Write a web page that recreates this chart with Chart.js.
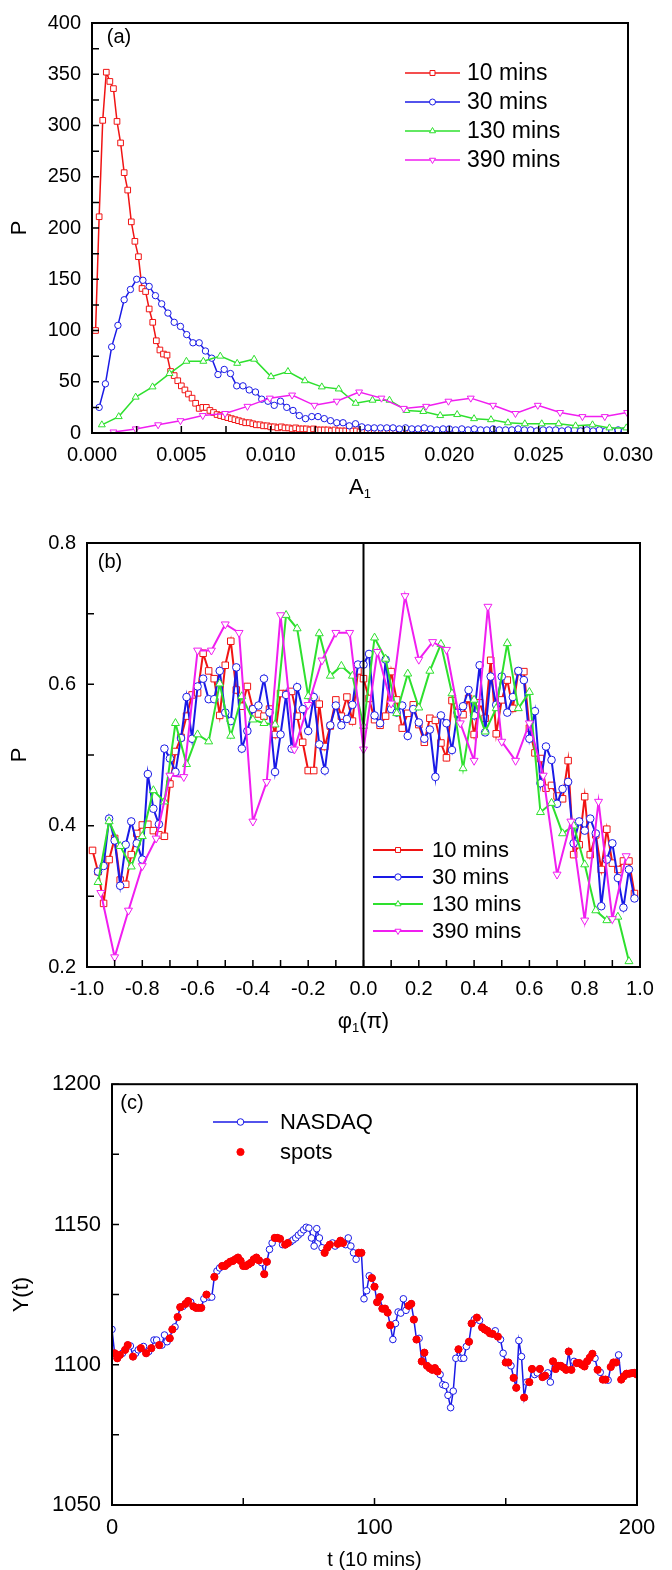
<!DOCTYPE html>
<html lang="en">
<head>
<meta charset="UTF-8">
<title>Amplitude / phase distributions and NASDAQ spots</title>
<script src="https://cdn.jsdelivr.net/npm/chart.js"></script>
<style>
  body { margin: 0; background: #fff; }
  canvas { position: absolute; left: 0; }
</style>
</head>
<body>
<canvas id="chartA" width="672" height="520" style="top:0"></canvas>
<canvas id="chartB" width="672" height="540" style="top:520px"></canvas>
<canvas id="chartC" width="672" height="510" style="top:1060px"></canvas>
<script>
// ---------- panel (a): P vs A1 ----------
// sampling grids (start, step) read off the marker spacing
const a10Grid = [0.0002, 0.0002];
const a30Grid = [0.0004, 0.00035];
const a130Grid = [0.00055, 0.000947];
const a390Grid = [0.0012, 0.00125];

const a10 = [100,211,305,352,343,336,304,283,254,237,
  206,187,172,141,138,121,108,90,81,77,
  76,60,56,51,46,42,38,34,29,24,
  25,25,22,20,18,17,16,15,14,13,
  12,11,10,10,9,8,8,7,7,6,
  6,5,6,5,5,4,5,4,4,4,
  3,4,3,3,3,3,2,3,2,2,
  2,2,2,2,1,2,1,1,1,1,
  1,1,1,1,1,1,1,1,1,1,
  1,1,1,1,1,1,1,1,1,1];
const a30 = [25,48,84,105,130,140,150,149,143,134,
  126,117,108,104,96,88,88,80,73,57,
  62,58,46,46,42,40,33,31,27,31,
  25,22,17,14,16,16,14,12,10,10,
  7,9,6,5,5,5,5,5,4,5,
  4,4,5,4,3,4,4,3,4,3,
  4,3,3,4,3,3,3,4,3,3,
  2,3,3,3,2,3,3,2,3,2,
  3,2,2,3,2];
const a130 = [8,16,35,45,58,70,70,75,68,72,55,60,51,45,43,29,32,32,22,21,17,18,14,13,10,9,9,9,7,8,5,5];
const a390 = [1,4,8,12,17,19,26,34,37,27,31,40,34,24,26,31,34,27,19,27,20,16,16,20];

const aXTicks = [0,0.0025,0.005,0.0075,0.01,0.0125,0.015,0.0175,0.02,0.0225,0.025,0.0275,0.03];
const aYTicks = [0,25,50,75,100,125,150,175,200,225,250,275,300,325,350,375,400];

// ---------- panel (b): P vs phi1 ----------
const b10Grid = [-0.98, 0.02];
const b30Grid = [-0.96, 0.02];
const b130Grid = [-0.96, 0.04];
const b390Grid = [-0.95, 0.05];

const b10 = [0.365,0.335,0.290,0.352,0.382,0.323,0.317,0.359,0.389,0.401,
  0.402,0.393,0.387,0.385,0.459,0.505,0.525,0.555,0.585,0.588,
  0.644,0.619,0.608,0.556,0.627,0.661,0.592,0.569,0.597,0.565,
  0.558,0.555,0.565,0.529,0.587,0.587,0.590,0.555,0.518,0.478,
  0.478,0.572,0.512,0.541,0.578,0.555,0.582,0.548,0.619,0.608,
  0.580,0.550,0.542,0.555,0.618,0.578,0.538,0.559,0.571,0.543,
  0.518,0.552,0.549,0.517,0.496,0.577,0.558,0.557,0.580,0.529,
  0.574,0.552,0.634,0.530,0.578,0.606,0.566,0.618,0.618,0.538,
  0.503,0.495,0.453,0.457,0.442,0.438,0.492,0.359,0.373,0.441,
  0.359,0.387,0.338,0.395,0.347,0.338,0.350,0.350,0.304];
const b30 = [0.335,0.343,0.410,0.379,0.315,0.373,0.406,0.375,0.352,0.473,
  0.424,0.402,0.509,0.495,0.476,0.524,0.582,0.523,0.597,0.608,
  0.579,0.579,0.619,0.560,0.548,0.624,0.509,0.534,0.565,0.570,
  0.608,0.560,0.476,0.529,0.585,0.509,0.596,0.565,0.534,0.582,
  0.515,0.478,0.542,0.570,0.542,0.551,0.571,0.628,0.628,0.643,
  0.556,0.545,0.635,0.565,0.560,0.570,0.527,0.565,0.546,0.523,
  0.536,0.469,0.556,0.545,0.507,0.560,0.569,0.592,0.556,0.627,
  0.532,0.611,0.571,0.611,0.560,0.582,0.619,0.606,0.523,0.562,
  0.460,0.512,0.493,0.431,0.452,0.462,0.375,0.406,0.393,0.410,
  0.389,0.286,0.352,0.375,0.326,0.284,0.338,0.297];
const b130 = [0.320,0.406,0.371,0.342,0.385,0.450,0.434,0.545,0.487,0.529,
  0.519,0.601,0.527,0.583,0.550,0.545,0.543,0.698,0.679,0.583,
  0.672,0.612,0.626,0.612,0.541,0.666,0.636,0.559,0.615,0.567,
  0.619,0.657,0.587,0.481,0.578,0.533,0.566,0.658,0.566,0.589,
  0.419,0.432,0.389,0.400,0.345,0.280,0.266,0.271,0.208];
const b390 = [0.305,0.214,0.280,0.343,0.382,0.471,0.469,0.648,0.648,0.685,
  0.673,0.406,0.462,0.698,0.508,0.571,0.634,0.673,0.673,0.508,
  0.646,0.573,0.725,0.635,0.660,0.649,0.545,0.492,0.710,0.519,
  0.492,0.545,0.471,0.331,0.406,0.266,0.434,0.268,0.357];

const bXTicks = [-1,-0.9,-0.8,-0.7,-0.6,-0.5,-0.4,-0.3,-0.2,-0.1,0,0.1,0.2,0.3,0.4,0.5,0.6,0.7,0.8,0.9,1];
const bYTicks = [0.2,0.3,0.4,0.5,0.6,0.7,0.8];

// ---------- panel (c): Y(t), t = 0..200 ----------
const nasdaq = [1112.6,1104.1,1102.3,1103.5,1104.1,1105.3,1107.0,1106.7,1102.9,1104.1,
  1105.3,1105.9,1106.5,1104.1,1104.7,1105.9,1108.8,1108.8,1107.0,1107.0,
  1110.6,1108.2,1109.4,1112.6,1113.5,1117.0,1120.5,1120.8,1121.7,1122.7,
  1122.3,1120.8,1120.3,1120.3,1120.3,1123.5,1125.0,1124.1,1124.1,
  1131.3,1133.4,1134.5,1135.2,1135.2,1136.0,1136.7,1137.0,1137.6,1138.2,1137.0,
  1135.2,1135.2,1135.8,1136.4,1137.6,1138.2,1137.2,1136.4,1132.3,1136.7,
  1141.1,1143.4,1145.2,1145.2,1144.9,1142.8,1142.8,1143.4,1143.8,1144.5,
  1145.2,1146.2,1147.0,1148.1,1149.0,1148.7,1145.2,1142.3,1148.5,1145.2,
  1141.7,1139.9,1141.7,1142.8,1143.4,1142.3,1143.1,1144.2,1143.4,1142.8,
  1145.2,1142.3,1139.9,1137.6,1139.9,1139.9,
  1123.5,1126.4,1131.7,1130.9,1127.8,1122.3,
  1124.1,1120.0,1120.0,1118.6,1114.1,1109.0,1114.7,1118.8,1118.4,1123.5,
  1119.4,1121.0,1121.7,1116.1,1109.0,1109.4,1101.2,1104.3,1099.6,1098.8,
  1098.2,1098.8,1097.6,1096.5,1092.9,1092.6,1089.1,1084.7,1090.6,1102.3,
  1105.5,1102.3,1102.3,1106.5,1108.2,1114.7,1116.1,1116.8,1115.8,1113.3,
  1112.6,1112.1,1111.2,1111.0,1112.1,1110.0,1109.0,1104.1,1100.8,1100.8,
  1099.6,1095.3,1091.8,1108.6,1102.9,1088.3,1093.8,1093.8,1098.5,1096.5,
  1097.1,1098.5,1095.6,1096.1,1097.1,1093.8,1101.2,1098.5,1099.6,1099.6,
  1099.0,1098.2,1104.7,1098.2,1101.2,1100.6,1100.6,1100.0,1099.4,1101.2,
  1102.5,1103.9,1102.3,1098.2,1097.3,1094.7,1094.7,1094.5,1099.2,1100.8,
  1100.8,1103.5,1094.7,1095.9,1096.8,1096.8,1097.0,1097.1,1096.5];
// time steps that carry a red spot
const spotT = [1,2,3,5,6,8,11,13,15,18,22,23,25,26,28,29,31,32,33,34,36,39,42,43,44,45,46,47,48,49,
  50,51,52,53,54,55,56,58,59,62,63,64,66,67,81,82,83,86,87,88,94,95,99,100,101,102,103,104,105,106,
  113,114,115,116,118,119,120,121,122,123,124,132,136,137,139,141,142,143,144,145,147,150,151,153,154,
  157,159,160,163,164,165,168,169,170,171,172,173,174,175,177,178,179,180,181,182,183,185,187,188,
  190,191,192,194,195,196,197,198,199,200];

const cXTicks = [0,50,100,150,200];
const cYTicks = [1050,1075,1100,1125,1150,1175,1200];

// ---------- helpers ----------
const FONT = '"Liberation Sans", Arial, Helvetica, sans-serif';
Chart.defaults.font.family = FONT;
Chart.defaults.color = '#000';

const RED = '#f01414', BLUE = '#1a1ae6', GREEN = '#2ee02e', MAGENTA = '#f01ef0';

function onGrid(grid, ys) {
  return ys.map((v, i) => ({ x: +(grid[0] + i * grid[1]).toFixed(6), y: v }));
}

function series(label, data, color, style, radius, lw, rot, order) {
  return {
    label, data, order, showLine: true, tension: 0,
    borderColor: color, borderWidth: lw,
    pointStyle: style, pointRotation: rot || 0, pointRadius: radius,
    pointBorderColor: color, pointBackgroundColor: '#fff', pointBorderWidth: 1
  };
}

function richText(ctx, parts, cx, cy) {
  let w = 0;
  parts.forEach(p => { ctx.font = p.size + 'px ' + FONT; w += ctx.measureText(p.t).width; });
  let x = cx - w / 2;
  ctx.textAlign = 'left';
  ctx.textBaseline = 'middle';
  parts.forEach(p => {
    ctx.font = p.size + 'px ' + FONT;
    ctx.fillText(p.t, x, cy + (p.dy || 0));
    x += ctx.measureText(p.t).width;
  });
}

const deco = {
  id: 'deco',
  afterDatasetsDraw(chart, args, o) {
    const { ctx, chartArea: ca } = chart;
    const x = chart.scales.x, y = chart.scales.y;
    ctx.save();
    ctx.strokeStyle = '#000';
    ctx.fillStyle = '#000';

    // zero line
    if (o.zeroLine) {
      const px = x.getPixelForValue(0);
      ctx.lineWidth = 2;
      ctx.beginPath(); ctx.moveTo(px, ca.top); ctx.lineTo(px, ca.bottom); ctx.stroke();
    }

    // inward tick marks on the bottom and left axes
    ctx.lineWidth = 1.5;
    ctx.beginPath();
    o.xTicks.forEach(v => { const p = x.getPixelForValue(v); ctx.moveTo(p, ca.bottom); ctx.lineTo(p, ca.bottom - 7); });
    o.yTicks.forEach(v => { const p = y.getPixelForValue(v); ctx.moveTo(ca.left, p); ctx.lineTo(ca.left + 7, p); });
    ctx.stroke();

    // frame
    ctx.lineWidth = 2;
    ctx.strokeRect(ca.left, ca.top, ca.right - ca.left, ca.bottom - ca.top);

    // panel tag
    ctx.font = '20px ' + FONT;
    ctx.textAlign = 'center';
    ctx.textBaseline = 'middle';
    ctx.fillText(o.tag.text, o.tag.x, o.tag.y);

    // axis titles
    richText(ctx, o.xTitle.parts, (ca.left + ca.right) / 2, o.xTitle.y);
    ctx.save();
    ctx.translate(o.yTitle.x, (ca.top + ca.bottom) / 2);
    ctx.rotate(-Math.PI / 2);
    richText(ctx, o.yTitle.parts, 0, 0);
    ctx.restore();

    // legend
    const L = o.legend;
    L.items.forEach((it, i) => {
      const ly = L.y + i * L.gap;
      const ds = chart.data.datasets[it.ds];
      if (it.line !== false) {
        ctx.strokeStyle = ds.borderColor;
        ctx.lineWidth = ds.borderWidth;
        ctx.beginPath(); ctx.moveTo(L.x0, ly); ctx.lineTo(L.x1, ly); ctx.stroke();
      }
      ctx.strokeStyle = ds.pointBorderColor;
      ctx.fillStyle = ds.pointBackgroundColor;
      ctx.lineWidth = ds.pointBorderWidth;
      Chart.helpers.drawPoint(ctx, {
        pointStyle: ds.pointStyle, rotation: ds.pointRotation || 0,
        radius: it.r || ds.pointRadius, borderWidth: ds.pointBorderWidth
      }, (L.x0 + L.x1) / 2, ly);
      ctx.fillStyle = '#000';
      ctx.font = L.size + 'px ' + FONT;
      ctx.textAlign = 'left';
      ctx.textBaseline = 'middle';
      ctx.fillText(ds.label, L.tx, ly + 1);
    });
    ctx.restore();
  }
};

function axes(c) {
  const tickFont = { size: c.font || 20 };
  return {
    x: {
      type: 'linear', min: c.xMin, max: c.xMax,
      afterFit: s => { s.height = c.xH; },
      grid: { display: false, drawTicks: false }, border: { display: false },
      ticks: { stepSize: c.xStep, callback: c.xFmt, padding: 10, maxRotation: 0, autoSkip: false, font: tickFont, color: '#000' }
    },
    y: {
      type: 'linear', min: c.yMin, max: c.yMax,
      afterFit: s => { s.width = c.yW; },
      grid: { display: false, drawTicks: false }, border: { display: false },
      ticks: { stepSize: c.yStep, callback: c.yFmt, padding: 11, autoSkip: false, font: tickFont, color: '#000' }
    }
  };
}

function baseOptions(c, decoOpts) {
  return {
    responsive: false, animation: false, devicePixelRatio: 1,
    layout: { padding: { top: c.top, right: c.right, left: 0, bottom: 0 } },
    plugins: { legend: { display: false }, tooltip: { enabled: false }, deco: decoOpts },
    scales: axes(c)
  };
}

// ---------- chart (a) ----------
new Chart(document.getElementById('chartA'), {
  type: 'scatter',
  data: {
    datasets: [
      series('10 mins', onGrid(a10Grid, a10), RED, 'rect', 4, 1.5, 0, 3),
      series('30 mins', onGrid(a30Grid, a30), BLUE, 'circle', 3.2, 1.5, 0, 2),
      series('130 mins', onGrid(a130Grid, a130), GREEN, 'triangle', 4, 1.5, 0, 1),
      series('390 mins', onGrid(a390Grid, a390), MAGENTA, 'triangle', 4, 1.5, 180, 0)
    ]
  },
  options: baseOptions(
    { xMin: 0, xMax: 0.03, xStep: 0.005, xFmt: v => v.toFixed(3), yMin: 0, yMax: 400, yStep: 50, yFmt: v => v,
      top: 16, right: 44, xH: 87, yW: 92 },
    { xTicks: aXTicks, yTicks: aYTicks,
      tag: { text: '(a)', x: 119, y: 37 },
      xTitle: { y: 488, parts: [{ t: 'A', size: 22 }, { t: '1', size: 13, dy: 6 }] },
      yTitle: { x: 20, parts: [{ t: 'P', size: 22 }] },
      legend: { x0: 405, x1: 460, tx: 467, y: 73, gap: 29, size: 23,
        items: [{ ds: 0, r: 3.5 }, { ds: 1, r: 3 }, { ds: 2, r: 3.5 }, { ds: 3, r: 3.5 }] } }
  ),
  plugins: [deco]
});

// ---------- chart (b) ----------
new Chart(document.getElementById('chartB'), {
  type: 'scatter',
  data: {
    datasets: [
      series('10 mins', onGrid(b10Grid, b10), RED, 'rect', 4.6, 2, 0, 3),
      series('30 mins', onGrid(b30Grid, b30), BLUE, 'circle', 3.8, 2, 0, 2),
      series('130 mins', onGrid(b130Grid, b130), GREEN, 'triangle', 4.6, 2, 0, 1),
      series('390 mins', onGrid(b390Grid, b390), MAGENTA, 'triangle', 4.6, 2, 180, 0)
    ]
  },
  options: baseOptions(
    { xMin: -1, xMax: 1, xStep: 0.2, xFmt: v => v.toFixed(1), yMin: 0.2, yMax: 0.8, yStep: 0.2, yFmt: v => v.toFixed(1),
      top: 18, right: 32, xH: 93, yW: 87 },
    { xTicks: bXTicks, yTicks: bYTicks, zeroLine: true,
      tag: { text: '(b)', x: 110, y: 42 },
      xTitle: { y: 502, parts: [{ t: 'φ', size: 22 }, { t: '1', size: 13, dy: 6 }, { t: '(π)', size: 22 }] },
      yTitle: { x: 20, parts: [{ t: 'P', size: 22 }] },
      legend: { x0: 373, x1: 423, tx: 432, y: 330, gap: 27, size: 22,
        items: [{ ds: 0, r: 3.5 }, { ds: 1, r: 3.2 }, { ds: 2, r: 3.5 }, { ds: 3, r: 3.5 }] } }
  ),
  plugins: [deco]
});

// ---------- chart (c) ----------
const nasdaqPts = nasdaq.map((v, t) => ({ x: t, y: v }));
const spotPts = spotT.map(t => ({ x: t, y: nasdaq[t] }));

new Chart(document.getElementById('chartC'), {
  type: 'scatter',
  data: {
    datasets: [
      series('NASDAQ', nasdaqPts, BLUE, 'circle', 3.3, 1.5, 0, 1),
      { label: 'spots', data: spotPts, order: 0, showLine: false, pointStyle: 'circle', pointRadius: 3.6,
        pointBackgroundColor: '#f00', pointBorderColor: '#f00', pointBorderWidth: 1 }
    ]
  },
  options: baseOptions(
    { xMin: 0, xMax: 200, xStep: 100, xFmt: v => v, yMin: 1050, yMax: 1200, yStep: 50, yFmt: v => v,
      top: 21, right: 35, xH: 65, yW: 112, font: 22 },
    { xTicks: cXTicks, yTicks: cYTicks,
      tag: { text: '(c)', x: 132, y: 43 },
      xTitle: { y: 500, parts: [{ t: 't (10 mins)', size: 20 }] },
      yTitle: { x: 22, parts: [{ t: 'Y(t)', size: 22 }] },
      legend: { x0: 213, x1: 268, tx: 280, y: 62, gap: 30, size: 22,
        items: [{ ds: 0, r: 3.3 }, { ds: 1, line: false, r: 3.6 }] } }
  ),
  plugins: [deco]
});
</script>
</body>
</html>
